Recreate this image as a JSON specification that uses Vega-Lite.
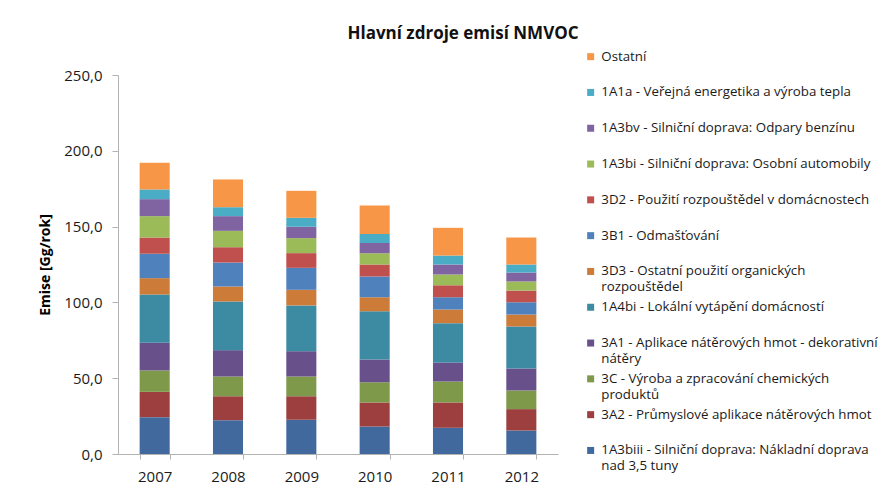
{
  "$schema": "https://vega.github.io/schema/vega-lite/v6.json",
  "width": 440,
  "height": 379,
  "autosize": {"type": "none"},
  "padding": {"left": 118, "top": 75, "right": 323, "bottom": 44},
  "background": "white",
  "config": {"view": {"stroke": null}, "font": "Open Sans"},
  "title": {"text": "Hlavní zdroje emisí NMVOC", "fontSize": 17, "fontWeight": "bold", "font": "Open Sans", "color": "#111111", "anchor": "middle", "frame": "group", "dx": 125, "offset": 7},
  "data": {"values": [
    {"year": "2007", "cat": "1A3biii - Silniční doprava: Nákladní doprava nad 3,5 tuny", "o": 1, "v": 24.3},
    {"year": "2007", "cat": "3A2 - Průmyslové aplikace nátěrových hmot", "o": 2, "v": 16.7},
    {"year": "2007", "cat": "3C - Výroba a zpracování chemických produktů", "o": 3, "v": 14.1},
    {"year": "2007", "cat": "3A1 - Aplikace nátěrových hmot - dekorativní nátěry", "o": 4, "v": 18.3},
    {"year": "2007", "cat": "1A4bi  - Lokální vytápění domácností", "o": 5, "v": 31.8},
    {"year": "2007", "cat": "3D3 - Ostatní použití organických rozpouštědel", "o": 6, "v": 10.8},
    {"year": "2007", "cat": "3B1 - Odmašťování", "o": 7, "v": 16.1},
    {"year": "2007", "cat": "3D2 - Použití rozpouštědel v domácnostech", "o": 8, "v": 10.7},
    {"year": "2007", "cat": "1A3bi - Silniční doprava: Osobní automobily", "o": 9, "v": 14.1},
    {"year": "2007", "cat": "1A3bv - Silniční doprava: Odpary benzínu", "o": 10, "v": 11.2},
    {"year": "2007", "cat": "1A1a - Veřejná energetika a výroba tepla", "o": 11, "v": 6.4},
    {"year": "2007", "cat": "Ostatní", "o": 12, "v": 17.6},
    {"year": "2008", "cat": "1A3biii - Silniční doprava: Nákladní doprava nad 3,5 tuny", "o": 1, "v": 22.3},
    {"year": "2008", "cat": "3A2 - Průmyslové aplikace nátěrových hmot", "o": 2, "v": 15.8},
    {"year": "2008", "cat": "3C - Výroba a zpracování chemických produktů", "o": 3, "v": 13.0},
    {"year": "2008", "cat": "3A1 - Aplikace nátěrových hmot - dekorativní nátěry", "o": 4, "v": 17.4},
    {"year": "2008", "cat": "1A4bi  - Lokální vytápění domácností", "o": 5, "v": 32.1},
    {"year": "2008", "cat": "3D3 - Ostatní použití organických rozpouštědel", "o": 6, "v": 9.9},
    {"year": "2008", "cat": "3B1 - Odmašťování", "o": 7, "v": 15.8},
    {"year": "2008", "cat": "3D2 - Použití rozpouštědel v domácnostech", "o": 8, "v": 10.1},
    {"year": "2008", "cat": "1A3bi - Silniční doprava: Osobní automobily", "o": 9, "v": 10.8},
    {"year": "2008", "cat": "1A3bv - Silniční doprava: Odpary benzínu", "o": 10, "v": 9.7},
    {"year": "2008", "cat": "1A1a - Veřejná energetika a výroba tepla", "o": 11, "v": 5.9},
    {"year": "2008", "cat": "Ostatní", "o": 12, "v": 18.3},
    {"year": "2009", "cat": "1A3biii - Silniční doprava: Nákladní doprava nad 3,5 tuny", "o": 1, "v": 22.6},
    {"year": "2009", "cat": "3A2 - Průmyslové aplikace nátěrových hmot", "o": 2, "v": 15.5},
    {"year": "2009", "cat": "3C - Výroba a zpracování chemických produktů", "o": 3, "v": 13.0},
    {"year": "2009", "cat": "3A1 - Aplikace nátěrových hmot - dekorativní nátěry", "o": 4, "v": 16.7},
    {"year": "2009", "cat": "1A4bi  - Lokální vytápění domácností", "o": 5, "v": 30.2},
    {"year": "2009", "cat": "3D3 - Ostatní použití organických rozpouštědel", "o": 6, "v": 10.3},
    {"year": "2009", "cat": "3B1 - Odmašťování", "o": 7, "v": 14.5},
    {"year": "2009", "cat": "3D2 - Použití rozpouštědel v domácnostech", "o": 8, "v": 9.7},
    {"year": "2009", "cat": "1A3bi - Silniční doprava: Osobní automobily", "o": 9, "v": 9.9},
    {"year": "2009", "cat": "1A3bv - Silniční doprava: Odpary benzínu", "o": 10, "v": 7.5},
    {"year": "2009", "cat": "1A1a - Veřejná energetika a výroba tepla", "o": 11, "v": 5.9},
    {"year": "2009", "cat": "Ostatní", "o": 12, "v": 17.8},
    {"year": "2010", "cat": "1A3biii - Silniční doprava: Nákladní doprava nad 3,5 tuny", "o": 1, "v": 18.1},
    {"year": "2010", "cat": "3A2 - Průmyslové aplikace nátěrových hmot", "o": 2, "v": 15.9},
    {"year": "2010", "cat": "3C - Výroba a zpracování chemických produktů", "o": 3, "v": 13.4},
    {"year": "2010", "cat": "3A1 - Aplikace nátěrových hmot - dekorativní nátěry", "o": 4, "v": 14.9},
    {"year": "2010", "cat": "1A4bi  - Lokální vytápění domácností", "o": 5, "v": 31.9},
    {"year": "2010", "cat": "3D3 - Ostatní použití organických rozpouštědel", "o": 6, "v": 9.2},
    {"year": "2010", "cat": "3B1 - Odmašťování", "o": 7, "v": 13.7},
    {"year": "2010", "cat": "3D2 - Použití rozpouštědel v domácnostech", "o": 8, "v": 7.9},
    {"year": "2010", "cat": "1A3bi - Silniční doprava: Osobní automobily", "o": 9, "v": 7.5},
    {"year": "2010", "cat": "1A3bv - Silniční doprava: Odpary benzínu", "o": 10, "v": 6.6},
    {"year": "2010", "cat": "1A1a - Veřejná energetika a výroba tepla", "o": 11, "v": 6.1},
    {"year": "2010", "cat": "Ostatní", "o": 12, "v": 18.7},
    {"year": "2011", "cat": "1A3biii - Silniční doprava: Nákladní doprava nad 3,5 tuny", "o": 1, "v": 17.3},
    {"year": "2011", "cat": "3A2 - Průmyslové aplikace nátěrových hmot", "o": 2, "v": 16.7},
    {"year": "2011", "cat": "3C - Výroba a zpracování chemických produktů", "o": 3, "v": 13.8},
    {"year": "2011", "cat": "3A1 - Aplikace nátěrových hmot - dekorativní nátěry", "o": 4, "v": 12.6},
    {"year": "2011", "cat": "1A4bi  - Lokální vytápění domácností", "o": 5, "v": 25.9},
    {"year": "2011", "cat": "3D3 - Ostatní použití organických rozpouštědel", "o": 6, "v": 9.0},
    {"year": "2011", "cat": "3B1 - Odmašťování", "o": 7, "v": 8.1},
    {"year": "2011", "cat": "3D2 - Použití rozpouštědel v domácnostech", "o": 8, "v": 7.9},
    {"year": "2011", "cat": "1A3bi - Silniční doprava: Osobní automobily", "o": 9, "v": 7.1},
    {"year": "2011", "cat": "1A3bv - Silniční doprava: Odpary benzínu", "o": 10, "v": 6.6},
    {"year": "2011", "cat": "1A1a - Veřejná energetika a výroba tepla", "o": 11, "v": 5.9},
    {"year": "2011", "cat": "Ostatní", "o": 12, "v": 18.3},
    {"year": "2012", "cat": "1A3biii - Silniční doprava: Nákladní doprava nad 3,5 tuny", "o": 1, "v": 15.5},
    {"year": "2012", "cat": "3A2 - Průmyslové aplikace nátěrových hmot", "o": 2, "v": 14.1},
    {"year": "2012", "cat": "3C - Výroba a zpracování chemických produktů", "o": 3, "v": 12.3},
    {"year": "2012", "cat": "3A1 - Aplikace nátěrových hmot - dekorativní nátěry", "o": 4, "v": 14.5},
    {"year": "2012", "cat": "1A4bi  - Lokální vytápění domácností", "o": 5, "v": 27.7},
    {"year": "2012", "cat": "3D3 - Ostatní použití organických rozpouštědel", "o": 6, "v": 7.9},
    {"year": "2012", "cat": "3B1 - Odmašťování", "o": 7, "v": 8.1},
    {"year": "2012", "cat": "3D2 - Použití rozpouštědel v domácnostech", "o": 8, "v": 7.7},
    {"year": "2012", "cat": "1A3bi - Silniční doprava: Osobní automobily", "o": 9, "v": 6.0},
    {"year": "2012", "cat": "1A3bv - Silniční doprava: Odpary benzínu", "o": 10, "v": 5.9},
    {"year": "2012", "cat": "1A1a - Veřejná energetika a výroba tepla", "o": 11, "v": 5.3},
    {"year": "2012", "cat": "Ostatní", "o": 12, "v": 17.8}
  ]},
  "mark": {"type": "bar"},
  "encoding": {
    "x": {
      "field": "year", "type": "nominal",
      "scale": {"paddingInner": 0.59, "paddingOuter": 0.295},
      "axis": {"title": null, "labelAngle": 0, "labelFontSize": 15, "labelColor": "#1a1a1a", "tickBand": "extent", "domainColor": "#b3b3b3", "tickColor": "#b3b3b3", "tickSize": 5, "labelPadding": 10}
    },
    "y": {
      "field": "v", "type": "quantitative", "aggregate": "sum", "stack": "zero",
      "scale": {"domain": [0, 250], "nice": false},
      "axis": {
        "title": "Emise [Gg/rok]", "titleFontSize": 14, "titleFontWeight": "bold", "titleColor": "#000000", "titlePadding": 11,
        "values": [0, 50, 100, 150, 200, 250],
        "labelExpr": "replace(format(datum.value, '.1f'), '.', ',')",
        "labelFontSize": 15, "labelColor": "#1a1a1a", "labelPadding": 10,
        "grid": false, "domainColor": "#b3b3b3", "tickColor": "#b3b3b3", "tickSize": 6
      }
    },
    "order": {"field": "o", "type": "quantitative", "sort": "ascending"},
    "color": {
      "field": "cat", "type": "nominal",
      "scale": {
        "domain": [
          "Ostatní",
          "1A1a - Veřejná energetika a výroba tepla",
          "1A3bv - Silniční doprava: Odpary benzínu",
          "1A3bi - Silniční doprava: Osobní automobily",
          "3D2 - Použití rozpouštědel v domácnostech",
          "3B1 - Odmašťování",
          "3D3 - Ostatní použití organických rozpouštědel",
          "1A4bi  - Lokální vytápění domácností",
          "3A1 - Aplikace nátěrových hmot - dekorativní nátěry",
          "3C - Výroba a zpracování chemických produktů",
          "3A2 - Průmyslové aplikace nátěrových hmot",
          "1A3biii - Silniční doprava: Nákladní doprava nad 3,5 tuny"
        ],
        "range": ["#F79646", "#4BACC6", "#8064A2", "#9BBB59", "#C0504D", "#4F81BD", "#CC7B38", "#3C8BA3", "#68508A", "#7E9949", "#9C3F3E", "#41699E"]
      },
      "legend": {
        "title": null, "orient": "none", "legendX": 466, "legendY": -25, "padding": 0,
        "symbolType": "square", "symbolSize": 49, "symbolStrokeWidth": 0, "symbolOpacity": 1,
        "labelFontSize": 13.3, "labelColor": "#1a1a1a", "labelLimit": 320, "labelOffset": 4,
        "labelBaseline": "top", "rowPadding": 5.8, "gridAlign": "all",
        "labelExpr": "datum.label == '3D3 - Ostatní použití organických rozpouštědel' ? ['3D3 - Ostatní použití organických', 'rozpouštědel'] : datum.label == '3A1 - Aplikace nátěrových hmot - dekorativní nátěry' ? ['3A1 - Aplikace nátěrových hmot - dekorativní', 'nátěry'] : datum.label == '3C - Výroba a zpracování chemických produktů' ? ['3C - Výroba a zpracování chemických', 'produktů'] : datum.label == '1A3biii - Silniční doprava: Nákladní doprava nad 3,5 tuny' ? ['1A3biii - Silniční doprava: Nákladní doprava', 'nad 3,5 tuny'] : datum.label",
        "encode": {"labels": {"update": {"dy": {"value": -7}, "lineHeight": {"value": 16}}}}
      }
    }
  }
}
